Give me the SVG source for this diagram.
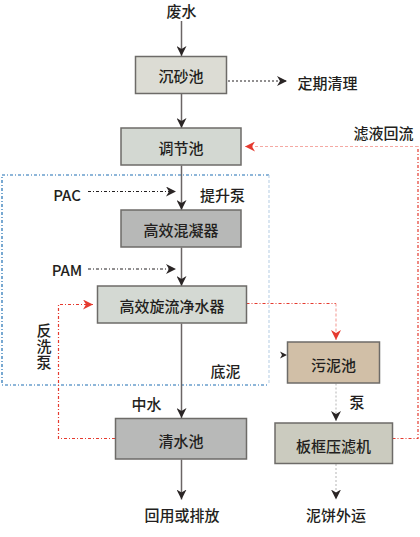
<svg xmlns="http://www.w3.org/2000/svg" width="420" height="537" viewBox="0 0 420 537">
<style>
text{font-family:"Noto Sans CJK SC","Noto Sans",sans-serif;font-size:15px;font-weight:500;fill:#231f20;text-anchor:middle;dominant-baseline:central}
.vt{writing-mode:vertical-rl;letter-spacing:1px}
.box{stroke:#6d6b68;stroke-width:1.5}
.main{stroke:#6b6565;stroke-width:1.5;fill:none}
.dot{stroke:#231f20;stroke-width:1;stroke-dasharray:2 2;fill:none}
.dd{stroke:#231f20;stroke-width:1;stroke-dasharray:3 2 1 2;fill:none}
.red{stroke:#e53a2f;stroke-width:1.2;stroke-dasharray:3 2 1 2;fill:none}
.redl{stroke:#f5a9a3;stroke-width:1.2;stroke-dasharray:3 2;fill:none}
.gray{stroke:#b5b5b5;stroke-width:1;stroke-dasharray:2 2;fill:none}
</style>
<defs>
<marker id="ah" markerUnits="userSpaceOnUse" markerWidth="10" markerHeight="10" refX="10" refY="5" orient="auto">
<path d="M0,0 L10,5 L0,10 L3,5 z" fill="#2a2525"/>
</marker>
<marker id="ahr" markerUnits="userSpaceOnUse" markerWidth="10" markerHeight="10" refX="10" refY="5" orient="auto">
<path d="M0,0 L10,5 L0,10 L3,5 z" fill="#e53a2f"/>
</marker>
</defs>

<g id="frame">
<path d="M269,175 H2 V385 H269" stroke="#1f6fb3" stroke-width="1.2" stroke-dasharray="3 2 1 2" fill="none"/>
<path d="M269,175 V385" stroke="#c0d5e8" stroke-width="1.2" stroke-dasharray="3 2" fill="none"/>
</g>

<g id="connectors">
<path class="main" d="M181.5,21 V56" marker-end="url(#ah)"/>
<path class="main" d="M181.5,94 V128" marker-end="url(#ah)"/>
<path class="main" d="M181.5,165.5 V210" marker-end="url(#ah)"/>
<path class="main" d="M181.5,247.5 V286" marker-end="url(#ah)"/>
<path class="main" d="M181.5,323.5 V418" marker-end="url(#ah)"/>
<path class="main" d="M181.5,459.5 V499.5" marker-end="url(#ah)"/>
<path class="dot" d="M228,81 H287" marker-end="url(#ah)"/>
<path class="dd" d="M88,191.5 H176" marker-end="url(#ah)"/>
<path class="dd" d="M88,269 H176" marker-end="url(#ah)"/>
<path class="red" d="M115,438.5 H58.5 V304.5 H93" marker-end="url(#ahr)"/>
<path class="red" d="M246.5,303.5 H336"/>
<path class="redl" d="M336,303.5 V340" marker-end="url(#ahr)"/>
<path class="gray" d="M336,383.5 V421" marker-end="url(#ah)"/>
<path class="gray" d="M336,464 V499.5" marker-end="url(#ah)"/>
<path class="red" d="M392.5,438.5 H418 V146.5"/>
<path class="redl" d="M418,146.5 H245" marker-end="url(#ahr)"/>
<path d="M280,351.5 L287,355 L280,358.5 L282,355 z" fill="#2a2525"/>
</g>

<g id="n-feishui"><text x="181.5" y="10">废水</text></g>
<g id="n-chensha"><rect class="box" x="135.5" y="56.5" width="91" height="37" fill="#dcdcd4"/><text x="181" y="75">沉砂池</text></g>
<g id="n-dingqi"><text x="327.5" y="82">定期清理</text></g>
<g id="n-tiaojie"><rect class="box" x="121" y="128" width="120" height="37" fill="#d3d8d2"/><text x="181" y="147">调节池</text></g>
<g id="n-lvye"><text x="383.5" y="132">滤液回流</text></g>
<g id="n-pac"><text x="67" y="194">PAC</text></g>
<g id="n-tisheng"><text x="222.5" y="194">提升泵</text></g>
<g id="n-hunning"><rect class="box" x="121" y="210" width="120" height="37" fill="#b7b8b7"/><text x="181" y="229">高效混凝器</text></g>
<g id="n-pam"><text x="67" y="269.5">PAM</text></g>
<g id="n-xuanliu"><rect class="box" x="97.5" y="286" width="149" height="37" fill="#d4d9d3"/><text x="172" y="305">高效旋流净水器</text></g>
<g id="n-fanxi"><text class="vt" x="44" y="347">反洗泵</text></g>
<g id="n-dini"><text x="225.5" y="370">底泥</text></g>
<g id="n-wuni"><rect class="box" x="287.5" y="342" width="92" height="41" fill="#d1bfa7"/><text x="333.5" y="364">污泥池</text></g>
<g id="n-zhongshui"><text x="146.5" y="403">中水</text></g>
<g id="n-beng"><text x="357" y="401">泵</text></g>
<g id="n-qingshui"><rect class="box" x="115.5" y="418.5" width="131" height="40.5" fill="#b8b9b8"/><text x="181" y="440">清水池</text></g>
<g id="n-bankuang"><rect class="box" x="275" y="423" width="117.5" height="40.5" fill="#cbcbbf"/><text x="333.5" y="445">板框压滤机</text></g>
<g id="n-huiyong"><text x="182" y="514">回用或排放</text></g>
<g id="n-nibing"><text x="336" y="514">泥饼外运</text></g>
</svg>
